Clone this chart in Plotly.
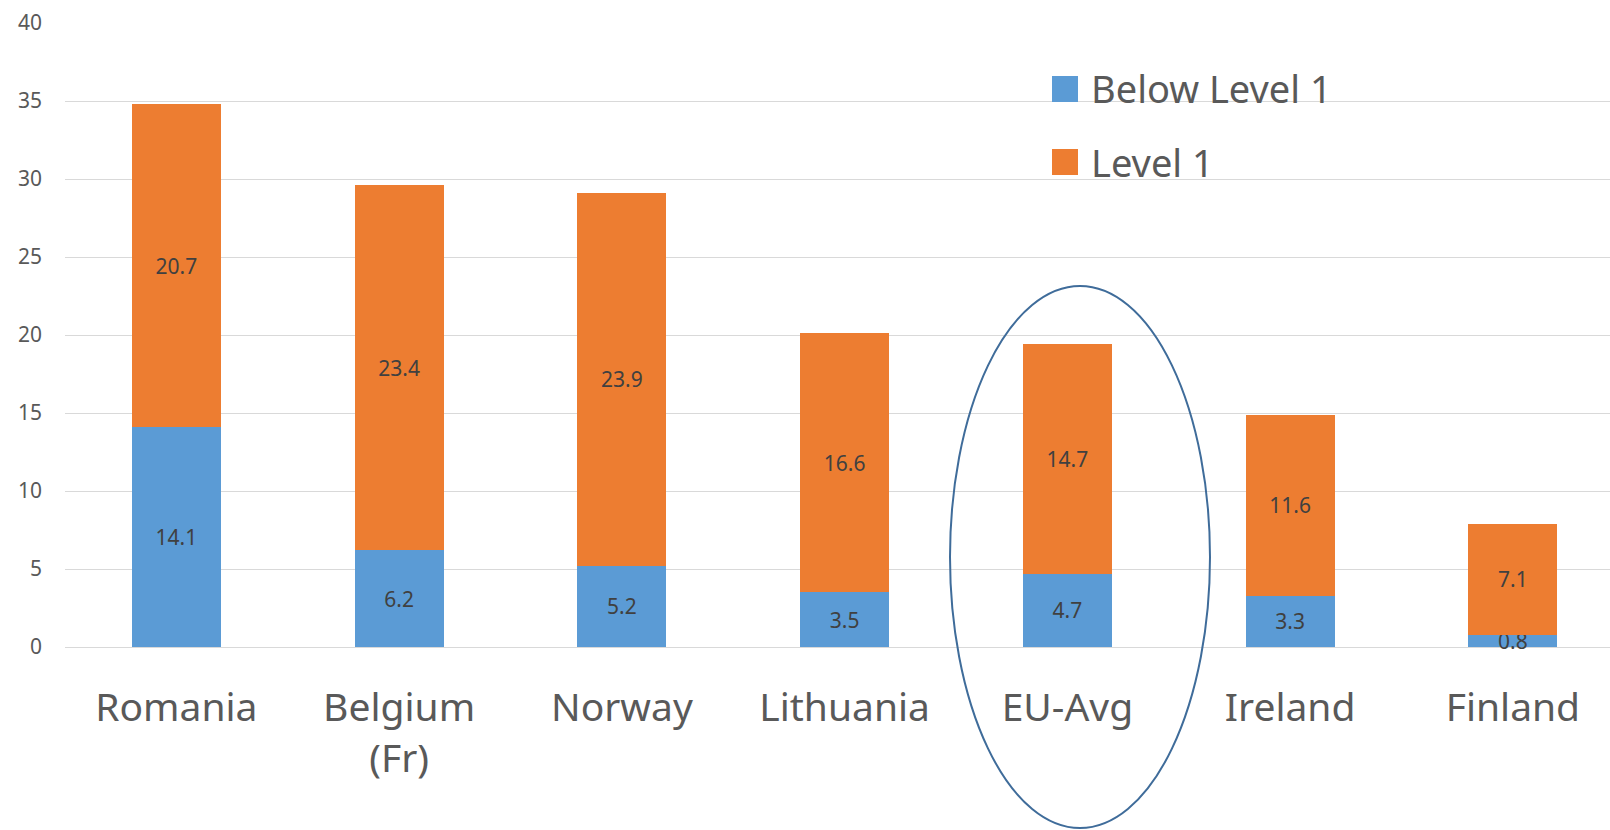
import plotly.graph_objects as go

# Share of students at low proficiency levels, by country
countries = ["Romania", "Belgium<br>(Fr)", "Norway", "Lithuania", "EU-Avg", "Ireland", "Finland"]
below_level_1 = [14.1, 6.2, 5.2, 3.5, 4.7, 3.3, 0.8]
level_1 = [20.7, 23.4, 23.9, 16.6, 14.7, 11.6, 7.1]
series_names = ["Below Level 1", "Level 1"]
series_colors = ["#5B9BD5", "#ED7D31"]
y_ticks = [0, 5, 10, 15, 20, 25, 30, 35, 40]

W, H = 1610, 830
ML, MR, MT, MB = 65, 0, 23, 183

label_font = dict(family="Noto Sans", size=21, color="#404040")

fig = go.Figure()
for name, vals, color in zip(series_names, [below_level_1, level_1], series_colors):
    fig.add_trace(go.Bar(
        x=countries, y=vals, name=name,
        marker=dict(color=color, line=dict(width=0)),
        width=0.4,
        text=[f"{v:.1f}" for v in vals],
        textposition="inside",
        insidetextanchor="middle",
        constraintext="none",
        textfont=label_font,
        cliponaxis=False,
        showlegend=False,
    ))

# Legend drawn as swatches + labels
plot_w = W - ML - MR
plot_h = H - MT - MB


def px_x(px):
    return (px - ML) / plot_w


def px_y(py):
    return (H - MB - py) / plot_h


shapes = []
annotations = []
legend_rows = [(76, 102, 88), (149, 175, 162)]
for (top, bot, mid), name, color in zip(legend_rows, series_names, series_colors):
    shapes.append(dict(type="rect", xref="paper", yref="paper",
                       x0=px_x(1052), x1=px_x(1078), y0=px_y(bot), y1=px_y(top),
                       fillcolor=color, line=dict(width=0)))
    annotations.append(dict(text=name, xref="paper", yref="paper",
                            x=px_x(1089), y=px_y(mid), xanchor="left", yanchor="middle",
                            showarrow=False,
                            font=dict(family="Noto Sans", size=38, color="#595959")))

# Ellipse highlighting the EU average
shapes.append(dict(type="circle", xref="paper", yref="paper",
                   x0=px_x(950), x1=px_x(1210), y0=px_y(828), y1=px_y(286),
                   line=dict(color="#3F6C9A", width=2), fillcolor="rgba(0,0,0,0)",
                   layer="above"))

fig.update_layout(
    width=W, height=H,
    margin=dict(l=ML, r=MR, t=MT, b=MB),
    barmode="stack",
    paper_bgcolor="white", plot_bgcolor="white",
    shapes=shapes, annotations=annotations,
    showlegend=False,
    xaxis=dict(
        range=[-0.5, -0.5 + plot_w / 222.75],
        showgrid=False, showline=False, zeroline=False, ticks="",
        tickfont=dict(family="Noto Sans", size=39, color="#595959"),
        ticklabelstandoff=34,
    ),
    yaxis=dict(
        range=[0, 40], tickvals=y_ticks,
        showgrid=True, gridcolor="#D9D9D9", gridwidth=1,
        zeroline=True, zerolinecolor="#D9D9D9", zerolinewidth=1,
        showline=False, ticks="",
        tickfont=dict(family="Noto Sans", size=21, color="#595959"),
        ticklabelstandoff=22,
    ),
)

fig.write_html("out.html")
